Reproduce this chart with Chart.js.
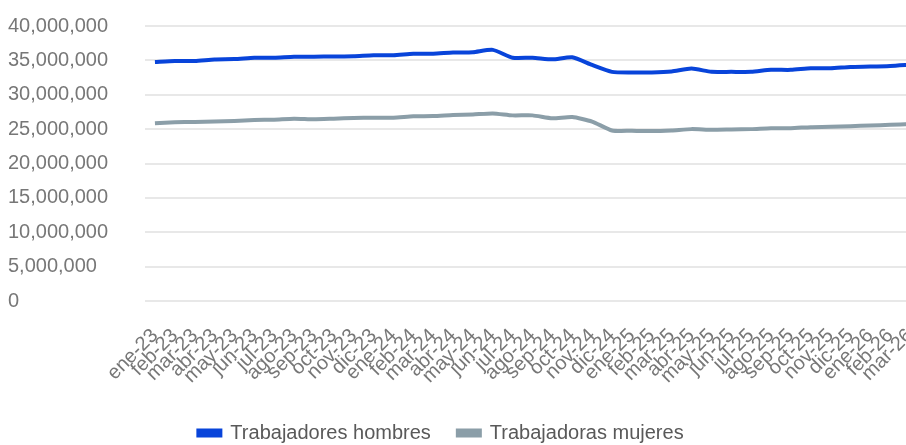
<!DOCTYPE html>
<html>
<head>
<meta charset="utf-8">
<script src="https://cdn.jsdelivr.net/npm/chart.js@4/dist/chart.umd.min.js"></script>
<style>
  html, body { margin: 0; padding: 0; background: #ffffff; overflow: hidden; }
  #wrap { position: relative; width: 958px; height: 445px; }
</style>
</head>
<body>
<div id="wrap"><canvas id="c"></canvas></div>
<script>
const categories = [
  'ene-23','feb-23','mar-23','abr-23','may-23','jun-23','jul-23','ago-23','sep-23','oct-23','nov-23','dic-23',
  'ene-24','feb-24','mar-24','abr-24','may-24','jun-24','jul-24','ago-24','sep-24','oct-24','nov-24','dic-24',
  'ene-25','feb-25','mar-25','abr-25','may-25','jun-25','jul-25','ago-25','sep-25','oct-25','nov-25','dic-25',
  'ene-26','feb-26','mar-26'
];
const hombres = [
  34760000, 34900000, 34900000, 35140000, 35190000, 35390000, 35390000, 35530000, 35530000, 35570000, 35610000, 35760000,
  35760000, 35960000, 35960000, 36140000, 36190000, 36530000, 35390000, 35390000, 35150000, 35450000, 34330000, 33330000,
  33240000, 33240000, 33380000, 33810000, 33330000, 33330000, 33330000, 33620000, 33620000, 33860000, 33860000, 34050000,
  34100000, 34190000, 34380000
];
const mujeres = [
  25860000, 26000000, 26050000, 26100000, 26190000, 26330000, 26380000, 26520000, 26430000, 26520000, 26620000, 26670000,
  26670000, 26860000, 26900000, 27050000, 27140000, 27290000, 27000000, 27000000, 26570000, 26760000, 26100000, 24810000,
  24760000, 24710000, 24810000, 25000000, 24900000, 24950000, 25000000, 25140000, 25140000, 25290000, 25330000, 25430000,
  25520000, 25620000, 25760000
];
const seriesNames = ['Trabajadores hombres', 'Trabajadoras mujeres'];
const yTicks = { min: 0, max: 40000000, step: 5000000 };

const FONT = "'Liberation Sans', Arial, sans-serif";

// nudges the legend to where the reference places it
const legendShift = {
  id: 'legendShift',
  afterLayout(chart) {
    const lg = chart.legend;
    if (!lg) return;
    const dx = -23, dy = 8;
    lg.left += dx; lg.right += dx;
    lg.top += dy; lg.bottom += dy;
  }
};

new Chart(document.getElementById('c'), {
  type: 'line',
  data: {
    labels: categories,
    datasets: [
      { label: seriesNames[0], data: hombres, borderColor: '#0844da', backgroundColor: '#0844da',
        borderWidth: 4, pointRadius: 0, tension: 0.2 },
      { label: seriesNames[1], data: mujeres, borderColor: '#8b9ea8', backgroundColor: '#8b9ea8',
        borderWidth: 4, pointRadius: 0, tension: 0.2 }
    ]
  },
  plugins: [legendShift],
  options: {
    responsive: true,
    maintainAspectRatio: false,
    animation: false,
    layout: { padding: { left: 8, right: 38, top: 3, bottom: 0 } },
    plugins: {
      tooltip: { enabled: false },
      legend: {
        position: 'bottom',
        labels: {
          font: { family: FONT, size: 20 },
          color: '#595959',
          boxWidth: 22,
          boxHeight: 5,
          padding: 27
        }
      }
    },
    scales: {
      x: {
        offset: true,
        grid: { display: false, drawTicks: true, tickLength: 23, tickColor: 'transparent' },
        border: { display: false },
        ticks: {
          autoSkip: false,
          maxRotation: 45,
          minRotation: 45,
          padding: 0,
          color: '#777777',
          font: { family: FONT, size: 20 }
        },
        afterFit(scale) { scale.height = 87; }
      },
      y: {
        min: yTicks.min,
        max: yTicks.max,
        grid: { color: '#e8e8e8', lineWidth: 2, drawTicks: false },
        border: { display: false },
        ticks: {
          stepSize: yTicks.step,
          crossAlign: 'far',
          padding: 14,
          color: '#777777',
          font: { family: FONT, size: 20 },
          callback: (v) => Number(v).toLocaleString('en-US')
        },
        afterFit(scale) { scale.width = 137; }
      }
    }
  }
});
</script>
</body>
</html>
